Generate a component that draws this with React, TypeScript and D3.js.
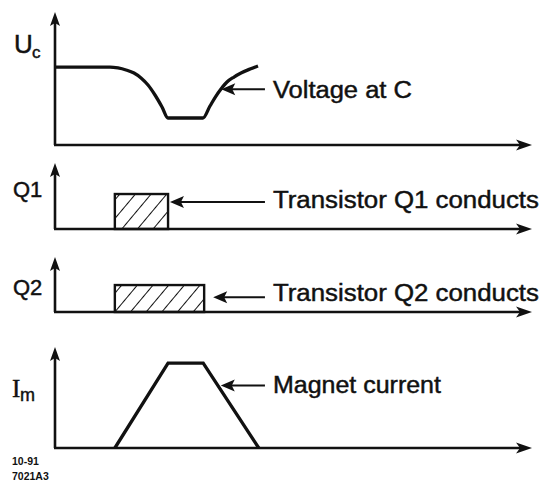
import React from "react";
import * as d3 from "d3";

const W = 539;
const H = 487;

// ---- data (time in arbitrary units 0..100, levels 0..10 per panel) ----
const ucTime = [0, 11.58, 13.26, 14.95, 16.63, 18.11, 19.58, 21.05, 22.53, 23.79, 31.16, 32.63, 33.89, 34.95, 36.21, 37.68, 39.16, 41.05, 42.74];
const ucValue = [5.86, 5.86, 5.79, 5.64, 5.41, 5.04, 4.51, 3.76, 2.86, 2.03, 2.03, 2.93, 3.68, 4.21, 4.74, 5.11, 5.41, 5.71, 5.94];

const q1Start = 12.6;
const q1End = 23.8;
const q1Level = 5.3;

const q2Start = 12.6;
const q2End = 31.4;
const q2Level = 4.9;

const imTime = [12.6, 23.8, 31.2, 42.9];
const imValue = [0, 8.4, 8.4, 0];

const panelNames = ["Uc", "Q1", "Q2", "Im"];
const annotationLabels = ["Voltage at C", "Transistor Q1 conducts", "Transistor Q2 conducts", "Magnet current"];
const annotationTipTime = [35.0, 24.2, 33.3, 34.9];
const annotationTipValue = [4.2, 4.1, 2.7, 6.2];
const annotationTailTime = 44.2;

const footerLines = ["10-91", "7021A3"];

// ---- layout ----
const panelBase = [145, 229, 312, 448];
const panelTop = [12, 163, 257, 347];
const textWidths = [139, 266, 266, 168];
const textDy = [9, 6, 4, 8];

const INK = "#111";
const SANS = "'Liberation Sans', Arial, Helvetica, sans-serif";
const SERIF = "'Liberation Serif', 'Times New Roman', serif";

export default function App() {
  const x = d3.scaleLinear().domain([0, 100]).range([55, 530]);
  const ys = panelBase.map((b, i) => d3.scaleLinear().domain([0, 10]).range([b, panelTop[i]]));

  const ucLine = d3
    .line<number>()
    .x((_, i) => x(ucTime[i]))
    .y((d) => ys[0](d))
    .curve(d3.curveMonotoneX)(ucValue);

  const imLine = d3
    .line<number>()
    .x((_, i) => x(imTime[i]))
    .y((d) => ys[3](d))(imValue);

  const x0 = x(0);
  const xEnd = x(100);
  const txt = { fill: INK, stroke: INK, strokeWidth: 0.45 };

  return (
    <svg width={W} height={H} style={{ position: "absolute", left: 0, top: 0, background: "#fff" }}>
      <defs>
        <pattern id="hatch" patternUnits="userSpaceOnUse" width="12" height="12" patternTransform="rotate(40)">
          <line x1="0" y1="0" x2="0" y2="12" stroke={INK} strokeWidth="2" />
        </pattern>
      </defs>

      {/* axes */}
      {panelNames.map((n, i) => {
        const b = panelBase[i];
        const t = panelTop[i];
        return (
          <g key={n}>
            <line x1={x0} y1={b} x2={x0} y2={t + 8} stroke={INK} strokeWidth={2.6} />
            <path d={`M${x0},${t} L${x0 - 5},${t + 14} L${x0},${t + 11} L${x0 + 5},${t + 14} Z`} fill={INK} />
            <line x1={x0 - 1} y1={b} x2={xEnd - 4} y2={b} stroke={INK} strokeWidth={2.6} />
            <path d={`M${xEnd + 2},${b} L${xEnd - 14},${b - 5.5} L${xEnd - 10},${b} L${xEnd - 14},${b + 5.5} Z`} fill={INK} />
          </g>
        );
      })}

      {/* Uc curve */}
      <path d={ucLine || ""} fill="none" stroke={INK} strokeWidth={3.3} strokeLinejoin="round" />

      {/* Q1 box */}
      <rect
        x={x(q1Start)}
        y={ys[1](q1Level)}
        width={x(q1End) - x(q1Start)}
        height={ys[1](0) - ys[1](q1Level)}
        fill="url(#hatch)"
        stroke={INK}
        strokeWidth={2.4}
      />
      {/* Q2 box */}
      <rect
        x={x(q2Start)}
        y={ys[2](q2Level)}
        width={x(q2End) - x(q2Start)}
        height={ys[2](0) - ys[2](q2Level)}
        fill="url(#hatch)"
        stroke={INK}
        strokeWidth={2.4}
      />

      {/* Im trapezoid */}
      <path d={imLine || ""} fill="none" stroke={INK} strokeWidth={3.3} strokeLinejoin="miter" />

      {/* annotations */}
      {annotationLabels.map((lab, i) => {
        const tx = x(annotationTipTime[i]);
        const ty = ys[i](annotationTipValue[i]);
        const tail = x(annotationTailTime);
        return (
          <g key={lab}>
            <line x1={tx + 8} y1={ty} x2={tail} y2={ty} stroke={INK} strokeWidth={2} />
            <path d={`M${tx},${ty} L${tx + 14},${ty - 6} L${tx + 11},${ty} L${tx + 14},${ty + 6} Z`} fill={INK} />
            <text
              x={tail + 8}
              y={ty + textDy[i]}
              fontFamily={SANS}
              fontSize={23}
              {...txt}
              textLength={textWidths[i]}
              lengthAdjust="spacingAndGlyphs"
            >
              {lab}
            </text>
          </g>
        );
      })}

      {/* y labels */}
      <text x={14} y={53} fontFamily={SANS} fontSize={26} {...txt}>U</text>
      <text x={32} y={58} fontFamily={SANS} fontSize={17} {...txt}>c</text>
      <text x={13} y={197} fontFamily={SANS} fontSize={22} {...txt}>Q1</text>
      <text x={13} y={295} fontFamily={SANS} fontSize={22} {...txt}>Q2</text>
      <text x={12} y={397} fontFamily={SERIF} fontSize={25} {...txt}>I</text>
      <text x={20} y={401} fontFamily={SANS} fontSize={18} {...txt}>m</text>

      {/* footer */}
      {footerLines.map((f, i) => (
        <text key={f} x={12} y={465 + i * 15} fontFamily={SANS} fontSize={10.5} fontWeight="bold" fill={INK}>
          {f}
        </text>
      ))}
    </svg>
  );
}
